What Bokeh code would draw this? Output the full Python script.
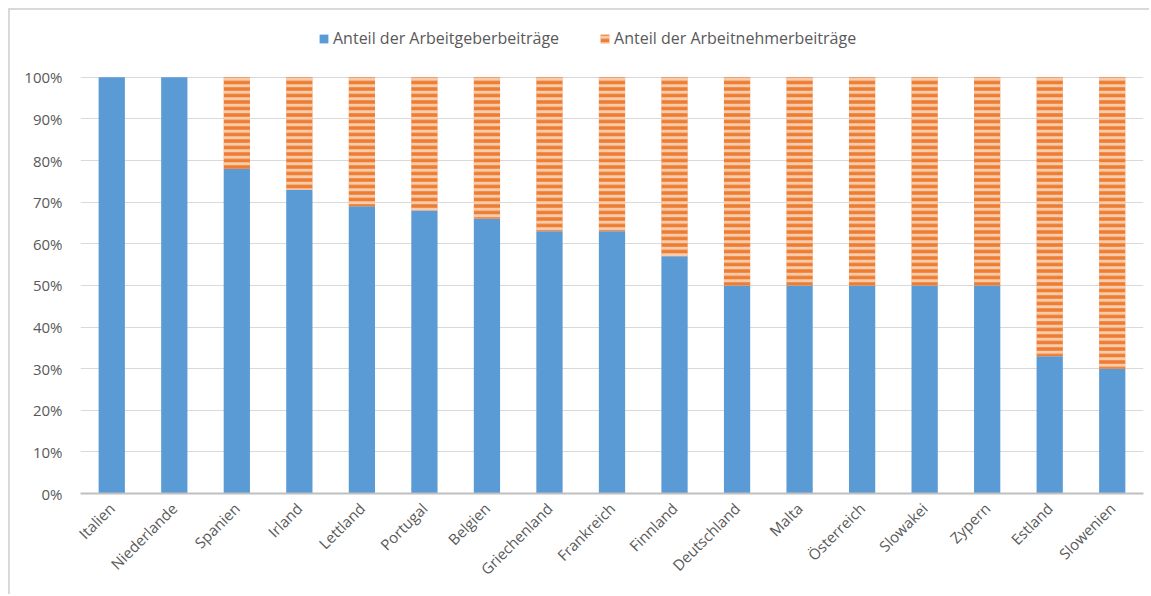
import math
from bokeh.plotting import figure
from bokeh.models import ColumnDataSource, Legend, LegendItem, NumeralTickFormatter, FixedTicker
from bokeh.embed import file_html
from bokeh.resources import INLINE

countries = ["Italien", "Niederlande", "Spanien", "Irland", "Lettland", "Portugal", "Belgien",
             "Griechenland", "Frankreich", "Finnland", "Deutschland", "Malta", "Österreich",
             "Slowakei", "Zypern", "Estland", "Slowenien"]
employer = [1.00, 1.00, 0.78, 0.73, 0.69, 0.68, 0.66, 0.63, 0.63, 0.57, 0.50, 0.50, 0.50, 0.50, 0.50, 0.33, 0.30]
employee = [round(1 - e, 2) for e in employer]
series = ["Anteil der Arbeitgeberbeiträge", "Anteil der Arbeitnehmerbeiträge"]
y_ticks = [i / 10 for i in range(11)]

FONT = "Open Sans"
TXT = "#595959"

src = ColumnDataSource(dict(c=countries, a=employer, b=employee))

p = figure(x_range=countries, y_range=(0, 1.139), width=1141, height=586,
           output_backend="svg", toolbar_location=None,
           min_border_left=70, min_border_right=8, min_border_top=9, min_border_bottom=103)

r1 = p.vbar(x="c", top="a", bottom=0, width=0.42, source=src, fill_color="#5B9BD5", line_color=None)
r2 = p.vbar(x="c", top=1, bottom="a", width=0.42, source=src, fill_color="#ED7D31", line_color=None,
            hatch_pattern="horizontal_line", hatch_color="white", hatch_alpha=0.6,
            hatch_weight=3, hatch_scale=6.5)

p.yaxis.ticker = FixedTicker(ticks=y_ticks)
p.yaxis.formatter = NumeralTickFormatter(format="0%")
p.yaxis.axis_line_color = None
p.yaxis.major_tick_line_color = None
p.yaxis.minor_tick_line_color = None
p.xaxis.axis_line_color = "#BFBFBF"
p.xaxis.axis_line_width = 2
p.xaxis.major_tick_line_color = None
p.xaxis.minor_tick_line_color = None
p.xaxis.major_label_orientation = math.pi / 4
for ax in (p.xaxis, p.yaxis):
    ax.major_label_text_font = FONT
    ax.major_label_text_font_size = "15px"
    ax.major_label_text_color = TXT
p.yaxis.major_label_standoff = 12
p.xaxis.major_label_standoff = 6

p.xgrid.grid_line_color = None
p.ygrid.grid_line_color = "#D9D9D9"
p.outline_line_color = None
p.x_range.range_padding = 0.0

legend = Legend(items=[LegendItem(label=series[0], renderers=[r1]),
                       LegendItem(label=series[1], renderers=[r2])],
                orientation="horizontal", location=(238, 444),
                label_text_font=FONT, label_text_font_size="16px", label_text_color=TXT,
                glyph_width=11, glyph_height=11, spacing=40, label_standoff=4,
                border_line_color=None, background_fill_alpha=0)
p.add_layout(legend, "center")
p.styles = {"margin-left": "8px", "margin-top": "8px",
            "border-left": "2px solid #D9D9D9", "border-top": "2px solid #D9D9D9",
            "border-right": "none", "border-bottom": "none"}

open("out.html", "w").write(file_html(p, INLINE))
